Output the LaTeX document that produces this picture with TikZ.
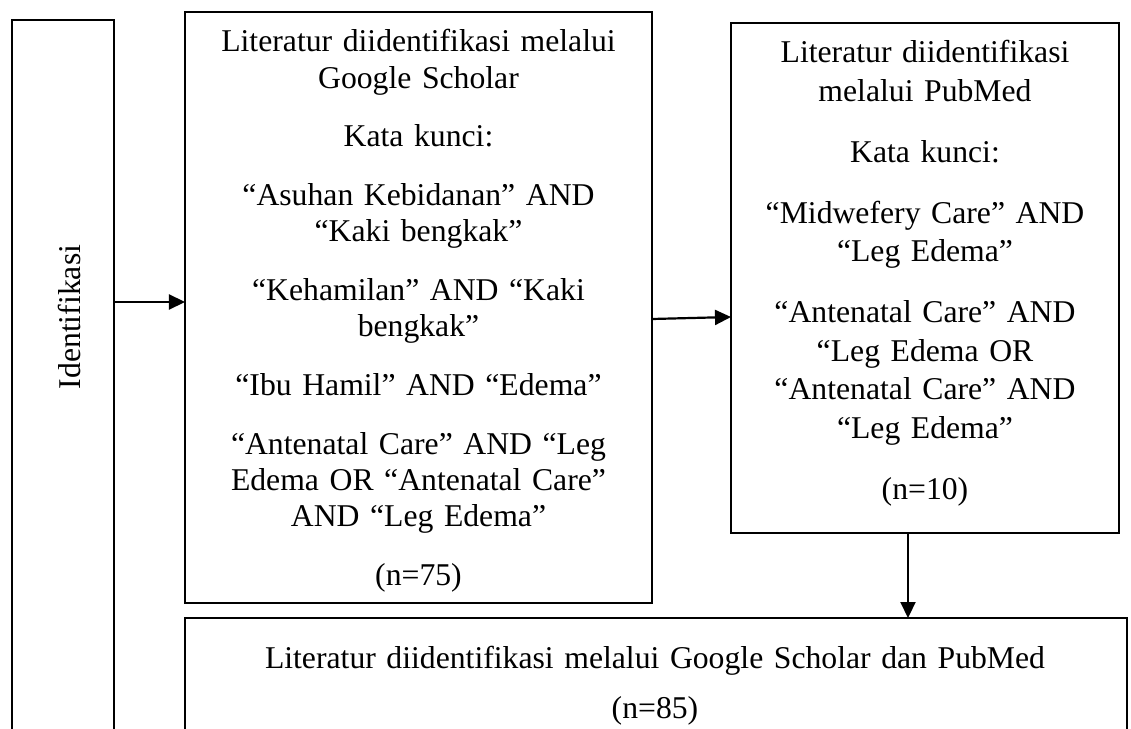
\documentclass[tikz,border=0pt]{standalone}
\usepackage{fontspec}
\setmainfont{Liberation Serif}
\usetikzlibrary{arrows.meta}
\begin{document}
\begin{tikzpicture}[x=1bp,y=-1bp,
  box/.style={draw=black, line width=2.6bp, rectangle, inner sep=0pt, outer sep=0pt},
  txt/.style={inner sep=0pt, outer sep=0pt, align=center, font=\fontsize{31.7bp}{36.2bp}\selectfont},
  txtr/.style={txt, font=\fontsize{31.7bp}{38.7bp}\selectfont},
  arr/.style={draw=black, line width=2.2bp, -{Triangle[length=16bp,width=15bp]}}
]
\useasboundingbox (0,0) rectangle (1131,729);
\clip (0,0) rectangle (1131,729);
% boxes
\node[box, minimum width=102bp, minimum height=780bp] (idbox) at (63,410) {};
\node[box, minimum width=467bp, minimum height=591bp] (gs) at (418.5,307.5) {};
\node[box, minimum width=388bp, minimum height=510bp] (pub) at (925,278) {};
\node[box, minimum width=942bp, minimum height=182bp] (bot) at (656,709) {};
% texts
\node[txt, rotate=90, anchor=base] (idtxt) at (80,317) {Identifikasi};
\node[txt, text width=460bp, anchor=base] (gstxt) at (418.5,52) {Literatur diidentifikasi melalui\\ Google Scholar\\[22.5bp] Kata kunci:\\[22.5bp] “Asuhan Kebidanan” AND\\ “Kaki bengkak”\\[22.5bp] “Kehamilan” AND “Kaki\\ bengkak”\\[22.5bp] “Ibu Hamil” AND “Edema”\\[22.5bp] “Antenatal Care” AND “Leg\\ Edema OR “Antenatal Care”\\ AND “Leg Edema”\\[22.5bp] (n=75)};
\node[txtr, text width=380bp, anchor=base] (pubtxt) at (925,63) {Literatur diidentifikasi\\ melalui PubMed\\[22bp] Kata kunci:\\[22bp] “Midwefery Care” AND\\ “Leg Edema”\\[22bp] “Antenatal Care” AND\\ “Leg Edema OR\\ “Antenatal Care” AND\\ “Leg Edema”\\[22bp] (n=10)};
\node[txt, text width=930bp, anchor=base] (bottxt) at (655,668) {Literatur diidentifikasi melalui Google Scholar dan PubMed\\[13.8bp] (n=85)};
% connectors
\coordinate (a1end) at ([yshift=5.5bp]gs.west);
\draw[arr] (idbox.east |- a1end) -- (a1end);
\draw[arr] ([yshift=-11.5bp]gs.east) -- ([yshift=-39bp]pub.west);
\coordinate (a3start) at ([xshift=-17bp]pub.south);
\draw[arr] (a3start) -- (a3start |- bot.north);
\end{tikzpicture}
\end{document}
